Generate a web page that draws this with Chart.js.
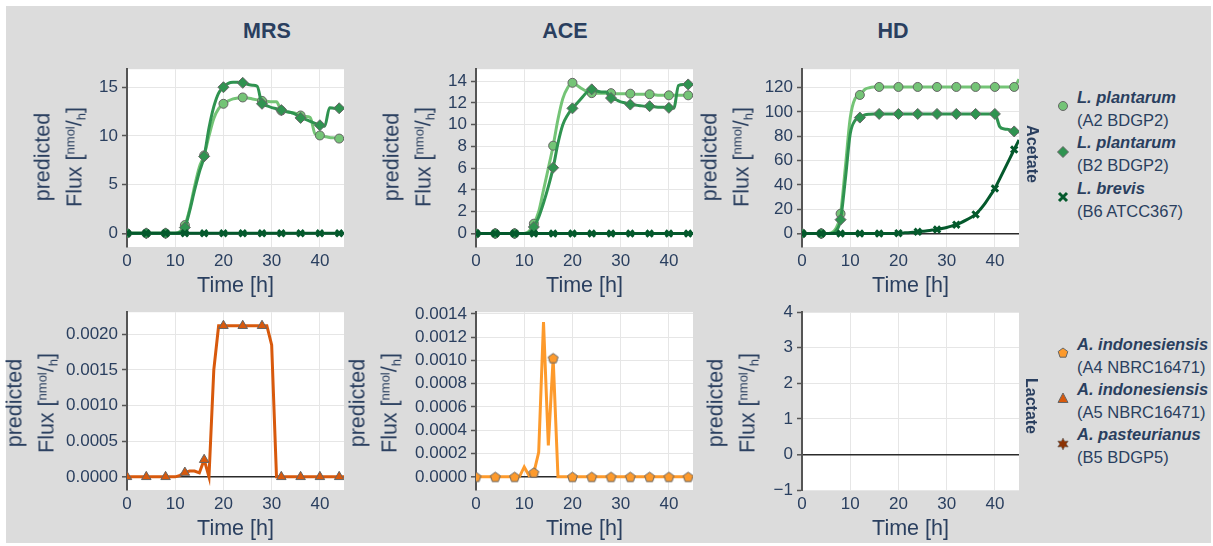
<!DOCTYPE html>
<html>
<head>
<meta charset="utf-8">
<script src="https://cdn.jsdelivr.net/npm/chart.js@4.4.1/dist/chart.umd.min.js"></script>
<style>
body { margin: 0; background: #fff; font-family: "Liberation Sans", Arial, sans-serif; color: #2a3f5f; }
#fig { position: absolute; left: 6px; top: 6px; width: 1205px; height: 537px; background: #dcdcdc; }
canvas { position: absolute; }
.t { position: absolute; white-space: nowrap; }
.title { font-weight: bold; font-size: 21.5px; transform: translate(-50%, -50%); }
.xt { font-size: 21.5px; transform: translate(-50%, -50%); }
.yt { font-size: 21.5px; line-height: 28px; text-align: center; transform: translate(-50%, -50%) rotate(-90deg); }
.yt sup, .yt sub { font-size: 13px; }
.yt sup { vertical-align: 7px; }
.yt sub { vertical-align: -4px; }
.row { font-weight: bold; font-size: 16px; transform: translate(-50%, -50%) rotate(90deg); }
.lg { font-size: 16.5px; line-height: 22.5px; }
.lg b { font-style: italic; }
.mk { position: absolute; }
</style>
</head>
<body>
<div id="fig"></div>
<canvas id="c1"></canvas><canvas id="c2"></canvas><canvas id="c3"></canvas>
<canvas id="c4"></canvas><canvas id="c5"></canvas><canvas id="c6"></canvas>
<div id="labels"></div>
<script>
// time points (h), one value per hour; markers every 4 h
const hours = [0,1,2,3,4,5,6,7,8,9,10,11,12,13,14,15,16,17,18,19,20,21,22,23,24,25,26,27,28,29,30,31,32,33,34,35,36,37,38,39,40,41,42,43,44,45];
const xTicks = [0, 10, 20, 30, 40];

// Acetate, predicted flux [nmol/h]
const mrsA2 = [0,0,0,0,0,0,0,0,0,0,0,0.2,0.85,2.5,4.8,6.8,8.0,10.0,11.8,12.8,13.3,13.6,13.8,13.9,13.95,13.9,13.8,13.7,13.6,13.55,13.5,13.5,12.6,12.5,12.4,12.3,12.1,12.0,11.9,10.2,10.05,9.95,9.85,9.8,9.73,9.7];
const mrsB2 = [0,0,0,0,0,0,0,0,0,0,0,0.1,0.6,2.3,4.4,6.3,7.9,10.8,13.0,14.4,15.0,15.4,15.5,15.5,15.45,15.3,15.2,15.1,13.3,13.1,12.9,12.8,12.65,12.5,12.4,12.2,11.85,11.7,11.5,11.3,11.1,11.0,12.9,12.85,12.84,12.85];
const mrsB6 = [0,0,0,0,0,0,0,0,0,0,0,0,0,0,0,0,0,0,0,0,0,0,0,0,0,0,0,0,0,0,0,0,0,0,0,0,0,0,0,0,0,0,0,0,0,0];
const aceA2 = [0,0,0,0,0,0,0,0,0,0,0,0.2,0.9,2.0,4.0,6.0,8.07,10.5,12.4,13.4,13.85,13.6,13.3,13.05,12.9,12.9,12.9,12.9,12.9,12.85,12.85,12.85,12.85,12.8,12.8,12.8,12.8,12.75,12.7,12.7,12.7,12.7,12.7,12.7,12.7,12.7];
const aceB2 = [0,0,0,0,0,0,0,0,0,0,0,0.1,0.6,1.5,2.8,4.3,6.05,8.3,10.0,10.9,11.5,12.0,12.5,13.0,13.25,13.1,13.0,13.0,12.45,12.3,12.1,12.0,11.85,11.8,11.75,11.7,11.7,11.65,11.6,11.6,11.55,11.5,13.6,13.7,13.7,13.7];
const aceB6 = [0,0,0,0,0,0,0,0,0,0,0,0,0,0,0,0,0,0,0,0,0,0,0,0,0,0,0,0,0,0,0,0,0,0,0,0,0,0,0,0,0,0,0,0,0,0];
const hdA2 = [0,0,0,0,0,0,0.5,4,16.3,55,95,111,114,118.5,120,120.5,120.6,120.6,120.6,120.6,120.6,120.6,120.6,120.6,120.6,120.6,120.6,120.6,120.6,120.6,120.6,120.6,120.6,120.6,120.6,120.6,120.6,120.6,120.6,120.6,120.6,120.6,120.6,120.6,120.6,127];
const hdB2 = [0,0,0,0,0,0,0,2,11.4,45,82,93,95.4,97.5,98.2,98.4,98.4,98.4,98.4,98.4,98.4,98.4,98.4,98.4,98.4,98.4,98.4,98.4,98.4,98.4,98.4,98.4,98.4,98.4,98.4,98.4,98.4,98.4,98.4,98.4,98.4,88,86,85.5,84,83.5];
const hdB6 = [0,0,0,0,0,0,0,0,0,0,0,0,0,0,0,0,0,0,0,0,0.3,0.5,0.7,1.0,1.4,1.8,2.3,2.8,3.3,4.1,5.0,6.1,7.3,9.0,11.0,13.2,15.7,20,25,31,37.1,45,53,61,69.1,77];

// Lactate, predicted flux [nmol/h]
const mrsA5 = [0,0,0,0,0,0,0,0,0,0,0,0.00002,0.00006,0.00008,0.00008,0.000055,0.00024,0,0.0015,0.00212,0.00212,0.00212,0.00212,0.00212,0.00212,0.00212,0.00212,0.00212,0.00212,0.00212,0.00185,0,0,0,0,0,0,0,0,0,0,0,0,0,0,0];
const aceA4 = [0,0,0,0,0,0,0,0,0,0,0.000085,0.00001,0.000037,0.00021,0.00133,0.00027,0.00102,0,0,0,0,0,0,0,0,0,0,0,0,0,0,0,0,0,0,0,0,0,0,0,0,0,0,0,0,0];

const ticksMrsAc = [0, 5, 10, 15];
const ticksAceAc = [0, 2, 4, 6, 8, 10, 12, 14];
const ticksHdAc = [0, 20, 40, 60, 80, 100, 120];
const ticksMrsLa = [0, 0.0005, 0.001, 0.0015, 0.002];
const ticksAceLa = [0, 0.0002, 0.0004, 0.0006, 0.0008, 0.001, 0.0012, 0.0014];
const ticksHdLa = [-1, 0, 1, 2, 3, 4];

const media = ['MRS', 'ACE', 'HD'];
const metabolites = ['Acetate', 'Lactate'];
const acetateStrains = [['L. plantarum', '(A2 BDGP2)'], ['L. plantarum', '(B2 BDGP2)'], ['L. brevis', '(B6 ATCC367)']];
const lactateStrains = [['A. indonesiensis', '(A4 NBRC16471)'], ['A. indonesiensis', '(A5 NBRC16471)'], ['A. pasteurianus', '(B5 BDGP5)']];

const FONT = '"Liberation Sans", Arial, sans-serif';
const TXT = '#2a3f5f';

function pentagon(color) {
    const c = document.createElement('canvas');
    c.width = 13; c.height = 13;
    const g = c.getContext('2d');
    g.beginPath();
    for (let k = 0; k < 5; k++) {
        const a = -Math.PI / 2 + k * 2 * Math.PI / 5;
        g.lineTo(6.5 + 5.2 * Math.cos(a), 7 + 5.2 * Math.sin(a));
    }
    g.closePath();
    g.fillStyle = color; g.fill();
    g.strokeStyle = '#666'; g.lineWidth = 1; g.stroke();
    return c;
}

const styles = {
    A2: { color: '#74c476', marker: 'circle', r: 4.5 },
    B2: { color: '#2f9350', marker: 'rectRot', r: 5.5 },
    B6: { color: '#04592c', marker: 'crossRot', r: 4.5 },
    A4: { color: '#fd9a2c', marker: pentagon('#fd9a2c'), r: 5 },
    A5: { color: '#d8590c', marker: 'triangle', r: 5.5 },
};

const plotBg = {
    id: 'plotBg',
    beforeDraw(chart) {
        const { ctx, chartArea: a } = chart;
        ctx.save();
        ctx.fillStyle = '#fff';
        ctx.fillRect(a.left, a.top, a.right - a.left, a.bottom - a.top);
        ctx.restore();
    }
};

const PW = 217, PH = 180, YW = 110, XH = 30, PAD = 12;

function makePanel(id, left, top, series, yMin, yMax, yTicks, digits, smooth) {
    const canvas = document.getElementById(id);
    canvas.width = YW + PW + PAD;
    canvas.height = PAD + PH + XH;
    canvas.style.left = (left - YW) + 'px';
    canvas.style.top = (top - PAD) + 'px';
    // first dataset is drawn on top, so reverse
    const datasets = series.slice().reverse().map(([values, key]) => {
        const s = styles[key];
        const cross = s.marker === 'crossRot';
        return {
            data: hours.map((h, i) => ({ x: h, y: values[i] })),
            borderColor: s.color,
            borderWidth: 3,
            tension: smooth ? 0.4 : 0,
            cubicInterpolationMode: smooth ? 'monotone' : 'default',
            pointStyle: s.marker,
            pointRadius: c => (c.raw && c.raw.x % 4 === 0 ? s.r : 0),
            pointHoverRadius: 0,
            pointBackgroundColor: s.color,
            pointBorderColor: cross ? s.color : '#666',
            pointBorderWidth: cross ? 3 : 1,
        };
    });
    new Chart(canvas.getContext('2d'), {
        type: 'line',
        data: { datasets },
        plugins: [plotBg],
        options: {
            responsive: false,
            animation: false,
            events: [],
            layout: { padding: { top: PAD, right: PAD, left: 0, bottom: 0 } },
            plugins: { legend: { display: false }, tooltip: { enabled: false } },
            scales: {
                x: {
                    type: 'linear', min: 0, max: 45,
                    afterFit: s => { s.height = XH; },
                    afterBuildTicks: s => { s.ticks = xTicks.map(v => ({ value: v })); },
                    ticks: { color: TXT, font: { family: FONT, size: 17 }, padding: 4 },
                    grid: { color: c => (c.tick && c.tick.value === 0 ? 'rgba(0,0,0,0)' : '#e6e6e6'), drawTicks: false },
                    border: { display: false },
                },
                y: {
                    type: 'linear', min: yMin, max: yMax,
                    afterFit: s => { s.width = YW; },
                    afterBuildTicks: s => { s.ticks = yTicks.map(v => ({ value: v })); },
                    ticks: {
                        color: TXT, font: { family: FONT, size: 17 }, padding: 4,
                        callback: v => (v < 0 ? '\u2212' + Math.abs(v).toFixed(digits) : v.toFixed(digits)),
                    },
                    grid: {
                        color: c => (c.tick && c.tick.value === 0 ? '#2b2b2b' : '#e6e6e6'),
                        lineWidth: c => (c.tick && c.tick.value === 0 ? 1.6 : 1),
                        drawTicks: true, tickLength: 5, tickColor: '#555', tickWidth: 1.5,
                    },
                    border: { display: true, color: '#555', width: 2 },
                },
            },
        },
    });
}

const cols = [127, 476, 802];
const rows = [67, 310];

makePanel('c1', cols[0], rows[0], [[mrsA2, 'A2'], [mrsB2, 'B2'], [mrsB6, 'B6']], -1.4, 16.85, ticksMrsAc, 0, true);
makePanel('c2', cols[1], rows[0], [[aceA2, 'A2'], [aceB2, 'B2'], [aceB6, 'B6']], -1.24, 15.1, ticksAceAc, 0, true);
makePanel('c3', cols[2], rows[0], [[hdA2, 'A2'], [hdB2, 'B2'], [hdB6, 'B6']], -11.1, 135.2, ticksHdAc, 0, true);
makePanel('c4', cols[0], rows[1], [[mrsA5, 'A5']], -0.000185, 0.00231, ticksMrsLa, 4, false);
makePanel('c5', cols[1], rows[1], [[aceA4, 'A4']], -0.000113, 0.001414, ticksAceLa, 4, false);
makePanel('c6', cols[2], rows[1], [], -1, 4, ticksHdLa, 0, false);

// text overlays
const L = document.getElementById('labels');
function put(cls, x, y, html) {
    const d = document.createElement('div');
    d.className = 't ' + cls;
    d.style.left = x + 'px';
    d.style.top = y + 'px';
    d.innerHTML = html;
    L.appendChild(d);
    return d;
}

const titleX = [267, 565, 893];
media.forEach((m, i) => put('title', titleX[i], 31, m));

const timeY = [285, 528];
rows.forEach((r, j) => cols.forEach(c => put('xt', c + PW / 2, timeY[j], 'Time [h]')));

const fluxLabel = 'predicted<br>Flux [<sup>nmol</sup>/<sub>h</sub>]';
const yTitleX = [[62, 411, 729], [34, 377, 735]];
const yTitleY = [157, 403];
yTitleX.forEach((xs, j) => xs.forEach(x => put('yt', x, yTitleY[j], fluxLabel)));

put('row', 1032, 154, metabolites[0]);
put('row', 1031, 406, metabolites[1]);

function markerSvg(kind, color) {
    let shape = '';
    if (kind === 'circle') shape = `<circle cx="7" cy="7" r="4.5" fill="${color}" stroke="#666"/>`;
    if (kind === 'diamond') shape = `<polygon points="7,1.5 12.5,7 7,12.5 1.5,7" fill="${color}" stroke="#666"/>`;
    if (kind === 'x') shape = `<path d="M3,3 L11,11 M11,3 L3,11" stroke="${color}" stroke-width="3"/>`;
    if (kind === 'pentagon') shape = `<polygon points="7,2 11.8,5.5 10,11.2 4,11.2 2.2,5.5" fill="${color}" stroke="#666"/>`;
    if (kind === 'triangle') shape = `<polygon points="7,2 12,11.5 2,11.5" fill="${color}" stroke="#666"/>`;
    if (kind === 'star') shape = `<polygon points="7,1 8.6,4.2 12.2,4 10.3,7 12.2,10 8.6,9.8 7,13 5.4,9.8 1.8,10 3.7,7 1.8,4 5.4,4.2" fill="${color}" stroke="#666" stroke-width="0.6"/>`;
    return `<svg width="14" height="14">${shape}</svg>`;
}

function legend(items, kinds, colors, markerY, textY) {
    items.forEach((it, i) => {
        const m = document.createElement('div');
        m.className = 'mk';
        m.style.left = (1063 - 7) + 'px';
        m.style.top = (markerY[i] - 7) + 'px';
        m.innerHTML = markerSvg(kinds[i], colors[i]);
        L.appendChild(m);
        put('lg', 1077, textY[i] - 11, `<b>${it[0]}</b><br>${it[1]}`);
    });
}
legend(acetateStrains, ['circle', 'diamond', 'x'], ['#74c476', '#2f9350', '#04592c'], [106, 152, 197], [97, 142, 188]);
legend(lactateStrains, ['pentagon', 'triangle', 'star'], ['#fd9a2c', '#d8590c', '#8b3305'], [353, 398, 444], [344, 389, 434]);
</script>
</body>
</html>
